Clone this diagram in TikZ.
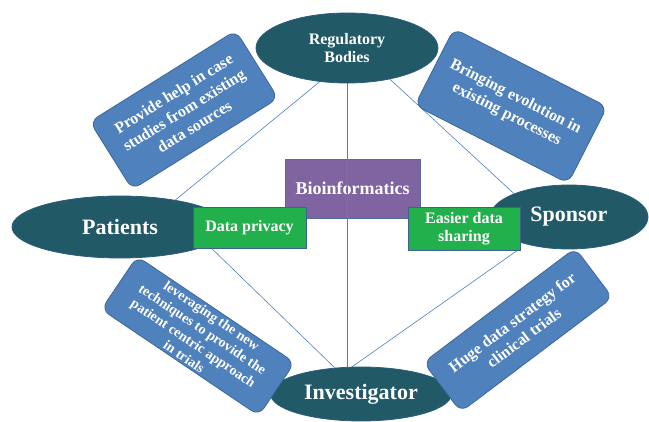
\documentclass[tikz,border=0pt]{standalone}
\usepackage{fontspec}
\setmainfont{Liberation Serif}
\usetikzlibrary{shapes.geometric}
\definecolor{ellfill}{HTML}{215967}
\definecolor{ellline}{HTML}{2C5D7C}
\definecolor{boxfill}{HTML}{4F81BD}
\definecolor{boxline}{HTML}{3A679C}
\definecolor{grfill}{HTML}{21B04B}
\definecolor{grline}{HTML}{3C6390}
\definecolor{purfill}{HTML}{8064A2}
\definecolor{purline}{HTML}{4E6E9E}
\definecolor{lnc}{HTML}{4F81BD}
\pgfdeclarelayer{back}
\pgfdeclarelayer{lines}
\pgfsetlayers{back,lines,main}
\begin{document}
\begin{tikzpicture}[x=1pt,y=-1pt,
  ell/.style={ellipse, fill=ellfill, draw=ellline, line width=0.8pt, text=white,
    font=\bfseries\fontsize{22}{24}\selectfont, inner sep=0pt, align=center},
  bluebox/.style={rectangle, rounded corners=9pt, fill=boxfill, draw=boxline, line width=0.8pt,
    text=white, font=\bfseries\fontsize{16}{19.5}\selectfont, align=center, inner sep=2pt},
  greenbox/.style={rectangle, fill=grfill, draw=grline, line width=0.8pt, text=white,
    font=\bfseries\fontsize{16}{18}\selectfont, align=center, inner sep=0pt},
  purbox/.style={rectangle, fill=purfill, draw=purline, line width=0.8pt, text=white,
    font=\bfseries\fontsize{18}{20}\selectfont, align=center, inner sep=0pt},
  conn/.style={draw=lnc, line width=0.6pt}]
\useasboundingbox (0,0) rectangle (649,422);

% central box (below the connectors)
\begin{pgfonlayer}{back}
\fill[white] (0,0) rectangle (649,422);
\node[purbox, minimum width=135pt, minimum height=59pt] (bio) at (352.5,188.5) {Bioinformatics};
\end{pgfonlayer}

% ellipses
\node[ell, minimum width=182pt, minimum height=70pt, font=\bfseries\fontsize{16}{18}\selectfont] (reg) at (347,48) {Regulatory\\Bodies};
\node[ell, minimum width=216pt, minimum height=62pt] (pat) at (120,227) {Patients};
\node[ell, minimum width=158pt, minimum height=64pt] (spo) at (569,217) {Sponsor};
\node[ell, minimum width=181pt, minimum height=54pt] (inv) at (361,394) {Investigator};

% green boxes
\node[greenbox, minimum width=113pt, minimum height=41pt] (dp) at (249.5,227.5) {Data privacy};
\node[greenbox, minimum width=112pt, minimum height=43pt] (es) at (464,228.5) {Easier data\\sharing};

% rotated blue boxes
\node[bluebox, rotate=32, minimum width=172pt, minimum height=80pt] (b1) at (184,110)
  {Provide help in case\\studies from existing\\data sources};
\node[bluebox, rotate=-27, minimum width=172pt, minimum height=86pt] (b2) at (511,106)
  {Bringing evolution in\\existing processes};
\node[bluebox, rotate=-34, minimum width=190pt, minimum height=64pt,
  font=\bfseries\fontsize{14}{16.5}\selectfont] (b3) at (198,336)
  {leveraging the new\\techniques to provide the\\patient centric approach\\in trials};
\node[bluebox, rotate=37, minimum width=190pt, minimum height=62pt] (b4) at (518,330)
  {Huge data strategy for\\clinical trials};

% connectors
\begin{pgfonlayer}{lines}
\draw[conn] (reg.231) -- (pat.26);
\draw[conn] (reg.south) -- (reg.south |- inv.north);
\draw[conn] (reg.-36) -- (spo.157);
\draw[conn] ([xshift=19pt]dp.south west) -- (inv.135);
\draw[conn] ([xshift=-3pt]es.south east) -- (inv.108);
\end{pgfonlayer}
\end{tikzpicture}
\end{document}
